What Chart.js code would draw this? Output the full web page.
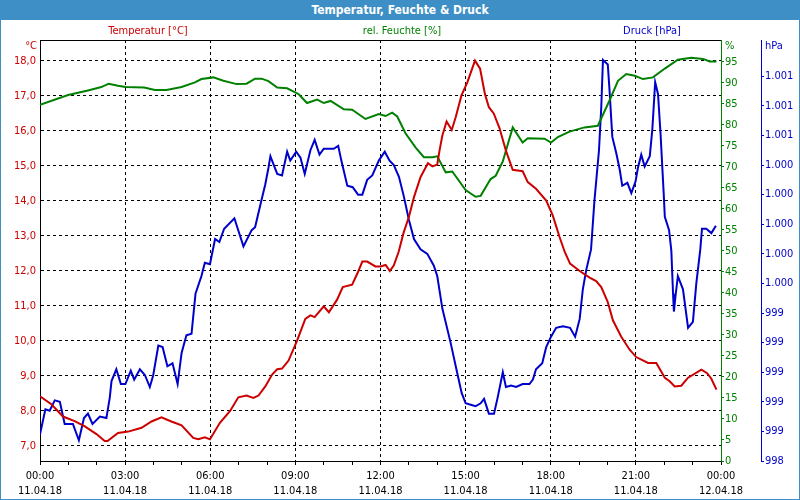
<!DOCTYPE html>
<html>
<head>
<meta charset="utf-8">
<script src="https://cdn.jsdelivr.net/npm/chart.js@4"></script>
<style>
  body { margin: 0; background: #fff; }
  #frame { position: relative; width: 800px; height: 500px; overflow: hidden; background: #fff; }
  #titlebar {
    position: absolute; left: 0; top: 0; width: 800px; height: 20px;
    background: #3d8fc6; color: #fff; text-align: center;
    font: bold 12px 'DejaVu Sans Condensed', 'DejaVu Sans', sans-serif; line-height: 20px;
  }
  #wrap { position: absolute; left: 0; top: 20px; width: 800px; height: 480px; }
  #border { position: absolute; left: 0; top: 0; width: 798px; height: 498px; border: 1px solid #3d8fc6; pointer-events: none; }
</style>
</head>
<body>
<div id="frame">
  <div id="titlebar">Temperatur, Feuchte &amp; Druck</div>
  <div id="wrap"><canvas id="chartWetter" width="800" height="480"></canvas></div>
  <div id="border"></div>
</div>
<script>
// Zeitachse (Stunden ab 00:00 am 11.04.18)
const timeLabels = ["00:00", "03:00", "06:00", "09:00", "12:00", "15:00", "18:00", "21:00", "00:00"];
const dateLabels = ["11.04.18", "11.04.18", "11.04.18", "11.04.18", "11.04.18", "11.04.18", "11.04.18", "11.04.18", "12.04.18"];

// Temperatur [°C]
const tempHours = [0, 0.40, 0.81, 1.22, 1.58, 1.99, 2.28, 2.38, 2.75, 3.11, 3.58, 3.93, 4.28, 4.63, 4.99, 5.40, 5.58, 5.81, 5.99, 6.34, 6.70, 6.99, 7.28, 7.52, 7.70, 7.94, 8.18, 8.36, 8.53, 8.76, 9.06, 9.35, 9.53, 9.68, 10.0, 10.18, 10.47, 10.67, 11.0, 11.18, 11.36, 11.53, 11.82, 12.0, 12.18, 12.33, 12.47, 12.64, 12.82, 13.0, 13.18, 13.41, 13.67, 13.83, 14.0, 14.08, 14.18, 14.33, 14.51, 14.65, 14.85, 15.06, 15.33, 15.51, 15.68, 15.82, 15.99, 16.19, 16.42, 16.66, 17.01, 17.19, 17.48, 17.84, 18.07, 18.31, 18.49, 18.68, 19.02, 19.37, 19.60, 19.78, 20.01, 20.19, 20.48, 20.78, 21.01, 21.43, 21.72, 22.02, 22.19, 22.37, 22.60, 22.84, 23.31, 23.51, 23.66, 23.84];
const tempValues = [8.42, 8.19, 7.84, 7.71, 7.56, 7.34, 7.14, 7.14, 7.37, 7.41, 7.52, 7.70, 7.82, 7.70, 7.59, 7.23, 7.19, 7.25, 7.19, 7.66, 8.00, 8.39, 8.44, 8.37, 8.44, 8.70, 9.04, 9.19, 9.21, 9.44, 10.01, 10.63, 10.73, 10.68, 10.99, 10.82, 11.18, 11.54, 11.61, 11.92, 12.27, 12.27, 12.13, 12.13, 12.17, 12.00, 12.16, 12.55, 13.11, 13.54, 14.11, 14.68, 15.08, 14.99, 15.04, 15.44, 15.87, 16.27, 16.03, 16.39, 17.01, 17.39, 18.01, 17.78, 17.06, 16.68, 16.50, 16.09, 15.44, 14.89, 14.85, 14.54, 14.35, 14.01, 13.59, 12.97, 12.55, 12.21, 12.00, 11.81, 11.71, 11.54, 11.11, 10.59, 10.13, 9.75, 9.54, 9.37, 9.37, 8.95, 8.85, 8.70, 8.72, 8.95, 9.18, 9.08, 8.92, 8.61];

// rel. Feuchte [%]
const humHours = [0, 0.99, 1.69, 2.16, 2.42, 2.75, 3.01, 3.67, 4.05, 4.46, 4.99, 5.46, 5.69, 6.11, 6.46, 6.93, 7.28, 7.58, 7.81, 8.05, 8.36, 8.71, 9.12, 9.41, 9.77, 10.0, 10.24, 10.71, 11.0, 11.47, 11.94, 12.18, 12.41, 12.59, 12.88, 13.24, 13.53, 13.83, 14.0, 14.3, 14.53, 15.0, 15.35, 15.53, 15.88, 16.06, 16.31, 16.66, 17.01, 17.19, 17.78, 18.01, 18.25, 18.66, 19.19, 19.66, 20.07, 20.37, 20.66, 20.96, 21.25, 21.6, 22.02, 22.48, 22.95, 23.37, 23.6, 23.84];
const humValues = [84.8, 87.1, 88.2, 89.0, 89.8, 89.3, 89.0, 88.9, 88.3, 88.3, 89.0, 90.1, 90.9, 91.3, 90.5, 89.7, 89.8, 91.0, 91.0, 90.4, 88.9, 88.7, 87.3, 85.2, 86.0, 85.2, 85.7, 83.7, 83.6, 81.4, 82.6, 82.1, 82.9, 82.0, 78.0, 74.6, 72.3, 72.3, 72.5, 68.7, 68.9, 64.5, 62.9, 63.1, 67.1, 67.9, 71.3, 79.4, 75.8, 76.8, 76.7, 75.8, 77.1, 78.4, 79.4, 79.8, 85.8, 90.5, 92.1, 91.7, 90.9, 91.3, 93.4, 95.5, 96.0, 95.7, 95.1, 95.1];

// Druck [hPa]
const pressHours = [0, 0.19, 0.34, 0.52, 0.70, 0.87, 1.16, 1.37, 1.55, 1.69, 1.85, 2.11, 2.34, 2.46, 2.52, 2.69, 2.85, 3.01, 3.20, 3.32, 3.52, 3.70, 3.87, 3.99, 4.17, 4.32, 4.49, 4.67, 4.85, 4.99, 5.16, 5.34, 5.48, 5.69, 5.81, 5.99, 6.17, 6.32, 6.49, 6.85, 7.17, 7.46, 7.58, 7.79, 7.94, 8.05, 8.12, 8.24, 8.36, 8.53, 8.71, 8.82, 9.03, 9.18, 9.33, 9.53, 9.68, 9.85, 10.0, 10.35, 10.51, 10.62, 10.83, 11.02, 11.21, 11.36, 11.53, 11.71, 11.94, 12.15, 12.32, 12.47, 12.65, 12.82, 13.0, 13.18, 13.41, 13.65, 13.88, 14.0, 14.18, 14.47, 14.71, 14.86, 15.0, 15.18, 15.35, 15.53, 15.65, 15.82, 16.0, 16.13, 16.31, 16.42, 16.60, 16.78, 17.01, 17.25, 17.37, 17.48, 17.70, 17.84, 18.01, 18.19, 18.43, 18.68, 18.86, 19.02, 19.13, 19.25, 19.42, 19.54, 19.70, 19.78, 19.84, 20.01, 20.07, 20.17, 20.31, 20.43, 20.52, 20.70, 20.84, 20.99, 21.07, 21.19, 21.31, 21.49, 21.58, 21.68, 21.78, 21.87, 21.98, 22.02, 22.17, 22.25, 22.31, 22.34, 22.40, 22.48, 22.66, 22.84, 23.01, 23.13, 23.27, 23.33, 23.48, 23.66, 23.82];
const pressValues = [998.58, 998.75, 998.74, 998.81, 998.80, 998.65, 998.65, 998.54, 998.69, 998.72, 998.65, 998.70, 998.69, 998.83, 998.94, 999.02, 998.92, 998.92, 999.01, 998.95, 999.02, 998.98, 998.90, 998.98, 999.18, 999.17, 999.04, 999.06, 998.92, 999.13, 999.25, 999.26, 999.53, 999.65, 999.74, 999.73, 999.90, 999.88, 999.97, 1000.04, 999.85, 999.96, 999.98, 1000.15, 1000.27, 1000.38, 1000.46, 1000.40, 1000.34, 1000.33, 1000.49, 1000.43, 1000.49, 1000.45, 1000.34, 1000.50, 1000.57, 1000.47, 1000.51, 1000.51, 1000.53, 1000.43, 1000.26, 1000.25, 1000.20, 1000.20, 1000.30, 1000.33, 1000.43, 1000.49, 1000.43, 1000.40, 1000.32, 1000.19, 1000.03, 999.90, 999.83, 999.80, 999.72, 999.65, 999.43, 999.20, 998.99, 998.86, 998.79, 998.78, 998.77, 998.79, 998.82, 998.72, 998.72, 998.83, 999.00, 998.90, 998.91, 998.90, 998.92, 998.92, 998.95, 999.02, 999.06, 999.17, 999.24, 999.30, 999.31, 999.30, 999.24, 999.36, 999.56, 999.69, 999.83, 1000.16, 1000.50, 1000.79, 1001.11, 1001.08, 1000.91, 1000.59, 1000.48, 1000.37, 1000.26, 1000.28, 1000.21, 1000.29, 1000.38, 1000.47, 1000.39, 1000.46, 1000.64, 1000.96, 1000.88, 1000.61, 1000.21, 1000.05, 999.96, 999.82, 999.53, 999.41, 999.52, 999.65, 999.56, 999.30, 999.34, 999.60, 999.83, 999.97, 999.97, 999.94, 999.99];

// Achsenbeschriftung Druck (gerundet wie im Original)
const pressTickValues = [998.4, 998.6, 998.8, 999.0, 999.2, 999.4, 999.6, 999.8, 1000.0, 1000.2, 1000.4, 1000.6, 1000.8, 1001.0];
const pressTickLabels = ["998", "999", "999", "999", "999", "999", "1.000", "1.000", "1.000", "1.000", "1.000", "1.001", "1.001", "1.001"];

const FONT = "'DejaVu Sans Condensed', 'DejaVu Sans', sans-serif";
const RED = "#cc0000", GREEN = "#008000", BLUE = "#0000cc";

function toPoints(xs, ys) {
    const n = Math.min(xs.length, ys.length);
    const pts = [];
    for (let i = 0; i < n; i++) pts.push({ x: xs[i], y: ys[i] });
    return pts;
}

// Überschriften über der Grafik + obere Rahmenlinie
const headerPlugin = {
    id: "header",
    afterDraw(chart) {
        const ctx = chart.ctx;
        const a = chart.chartArea;
        ctx.save();
        ctx.strokeStyle = "#000";
        ctx.lineWidth = 1;
        ctx.beginPath();
        ctx.moveTo(a.left, a.top + 0.5);
        ctx.lineTo(a.right, a.top + 0.5);
        ctx.stroke();

        ctx.font = "11px " + FONT;
        ctx.textBaseline = "middle";
        ctx.textAlign = "center";
        ctx.fillStyle = RED;   ctx.fillText("Temperatur [°C]", 148, 11);
        ctx.fillStyle = GREEN; ctx.fillText("rel. Feuchte [%]", 402, 11);
        ctx.fillStyle = BLUE;  ctx.fillText("Druck [hPa]", 652, 11);

        ctx.textAlign = "right";
        ctx.fillStyle = RED;   ctx.fillText("°C", 37, 26);
        ctx.textAlign = "left";
        ctx.fillStyle = GREEN; ctx.fillText("%", 725, 26);
        ctx.fillStyle = BLUE;  ctx.fillText("hPa", 765, 26);
        ctx.restore();
    }
};

Chart.defaults.font.family = FONT;
Chart.defaults.font.size = 11;

new Chart(document.getElementById("chartWetter"), {
    type: "line",
    data: {
        datasets: [
            { label: "Temperatur [°C]", data: toPoints(tempHours, tempValues), yAxisID: "yTemp",
              borderColor: RED, borderWidth: 2, pointRadius: 0, tension: 0 },
            { label: "rel. Feuchte [%]", data: toPoints(humHours, humValues), yAxisID: "yHum",
              borderColor: GREEN, borderWidth: 2, pointRadius: 0, tension: 0 },
            { label: "Druck [hPa]", data: toPoints(pressHours, pressValues), yAxisID: "yPress",
              borderColor: BLUE, borderWidth: 2, pointRadius: 0, tension: 0 }
        ]
    },
    options: {
        responsive: false,
        animation: false,
        devicePixelRatio: 1,
        layout: { padding: { top: 20, left: 0, right: 0, bottom: 0 } },
        plugins: {
            legend: { display: false },
            tooltip: { enabled: false }
        },
        scales: {
            x: {
                type: "linear",
                min: 0,
                max: 24,
                afterFit: s => { s.height = 39; },
                ticks: {
                    stepSize: 1,
                    autoSkip: false,
                    maxRotation: 0,
                    padding: 3,
                    color: "#000",
                    font: { size: 11, lineHeight: 1.4 },
                    callback: v => (v % 3 === 0 ? [timeLabels[v / 3], dateLabels[v / 3]] : "")
                },
                grid: {
                    color: c => (c.tick && c.tick.value % 3 === 0 && c.tick.value > 0 && c.tick.value < 24 ? "#000" : "rgba(0,0,0,0)"),
                    tickColor: "#000",
                    tickLength: 4,
                    lineWidth: 1
                },
                border: { color: "#000", width: 1, dash: [3, 3] }
            },
            yTemp: {
                position: "left",
                min: 6.57,
                max: 18.6,
                afterFit: s => { s.width = 40; },
                ticks: {
                    stepSize: 1,
                    includeBounds: false,
                    padding: 4,
                    color: RED,
                    callback: v => v.toFixed(1).replace(".", ",")
                },
                grid: { color: "#000", drawTicks: false, lineWidth: 1 },
                border: { color: "#000", width: 1, dash: [3, 3] }
            },
            yHum: {
                position: "right",
                min: 0,
                max: 100.2,
                afterFit: s => { s.width = 40; },
                ticks: { stepSize: 5, includeBounds: false, padding: 1, color: GREEN },
                afterBuildTicks: s => { s.ticks = s.ticks.filter(t => t.value <= 95); },
                grid: { drawOnChartArea: false, tickColor: GREEN, tickLength: 3 },
                border: { color: GREEN, width: 1 }
            },
            yPress: {
                position: "right",
                min: 998.4,
                max: 1001.245,
                afterFit: s => { s.width = 39; },
                afterBuildTicks: s => { s.ticks = pressTickValues.map(v => ({ value: v })); },
                ticks: {
                    padding: 1,
                    color: BLUE,
                    callback: (v, i) => pressTickLabels[i]
                },
                grid: { drawOnChartArea: false, tickColor: BLUE, tickLength: 3 },
                border: { color: BLUE, width: 1 }
            }
        }
    },
    plugins: [headerPlugin]
});
</script>
</body>
</html>
